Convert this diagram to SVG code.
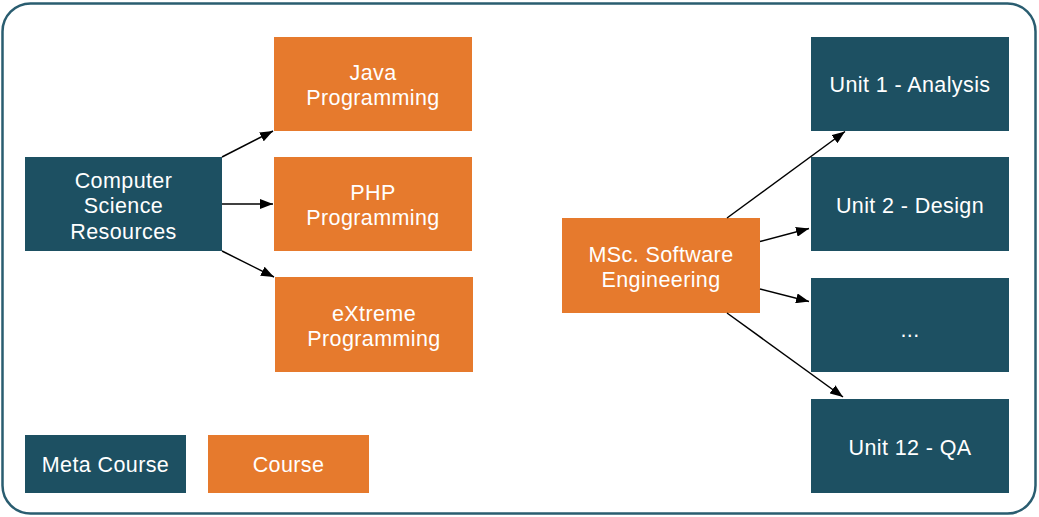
<svg xmlns="http://www.w3.org/2000/svg" width="1039" height="517" viewBox="0 0 1039 517">
<style>
.meta{fill:#1d5062}
.course{fill:#e67a2d}
text{font-family:"Liberation Sans",Arial,sans-serif;font-size:21.5px;letter-spacing:0.4px;fill:#ffffff;text-anchor:middle}
.conn line{stroke:#000;stroke-width:1.5;marker-end:url(#ah)}
</style>
<defs>
<marker id="ah" viewBox="0 0 13 10" refX="13" refY="5" markerWidth="13" markerHeight="10" markerUnits="userSpaceOnUse" orient="auto">
<path d="M0,0 L13,5 L0,10 z" fill="#000"/>
</marker>
</defs>
<rect x="2.5" y="3.5" width="1033" height="510" rx="28" ry="28" fill="#fff" stroke="#2a5d70" stroke-width="2.5"/>
<g id="cs"><rect class="meta" x="25" y="157" width="197" height="94"/><text x="123.5" y="187.5">Computer</text><text x="123.5" y="213">Science</text><text x="123.5" y="238.5">Resources</text></g>
<g id="java"><rect class="course" x="274" y="37" width="198" height="94"/><text x="373" y="79.5">Java</text><text x="373" y="105">Programming</text></g>
<g id="php"><rect class="course" x="274" y="157" width="198" height="94"/><text x="373" y="199.5">PHP</text><text x="373" y="225">Programming</text></g>
<g id="xp"><rect class="course" x="275" y="277" width="198" height="95"/><text x="374" y="320.5">eXtreme</text><text x="374" y="346">Programming</text></g>
<g id="msc"><rect class="course" x="562" y="218" width="198" height="95"/><text x="661" y="261.5">MSc. Software</text><text x="661" y="287">Engineering</text></g>
<g id="u1"><rect class="meta" x="811" y="37" width="198" height="94"/><text x="910" y="91.5">Unit 1 - Analysis</text></g>
<g id="u2"><rect class="meta" x="811" y="157" width="198" height="94"/><text x="910" y="212.5">Unit 2 - Design</text></g>
<g id="u3"><rect class="meta" x="811" y="278" width="198" height="94"/><text x="910" y="337">...</text></g>
<g id="u12"><rect class="meta" x="811" y="399" width="198" height="94"/><text x="910" y="454.5">Unit 12 - QA</text></g>
<g id="legend-meta"><rect class="meta" x="25" y="435" width="161" height="58"/><text x="105.5" y="471.5">Meta Course</text></g>
<g id="legend-course"><rect class="course" x="208" y="435" width="161" height="58"/><text x="288.5" y="471.5">Course</text></g>
<g class="conn" id="connectors">
<line x1="222" y1="157" x2="273" y2="131"/>
<line x1="222" y1="204" x2="273" y2="204"/>
<line x1="222" y1="251" x2="274" y2="277"/>
<line x1="727" y1="218" x2="845" y2="131.5"/>
<line x1="760" y1="241.5" x2="809" y2="228.5"/>
<line x1="760" y1="289" x2="809" y2="301.5"/>
<line x1="727" y1="313" x2="843" y2="397"/>
</g>
</svg>
